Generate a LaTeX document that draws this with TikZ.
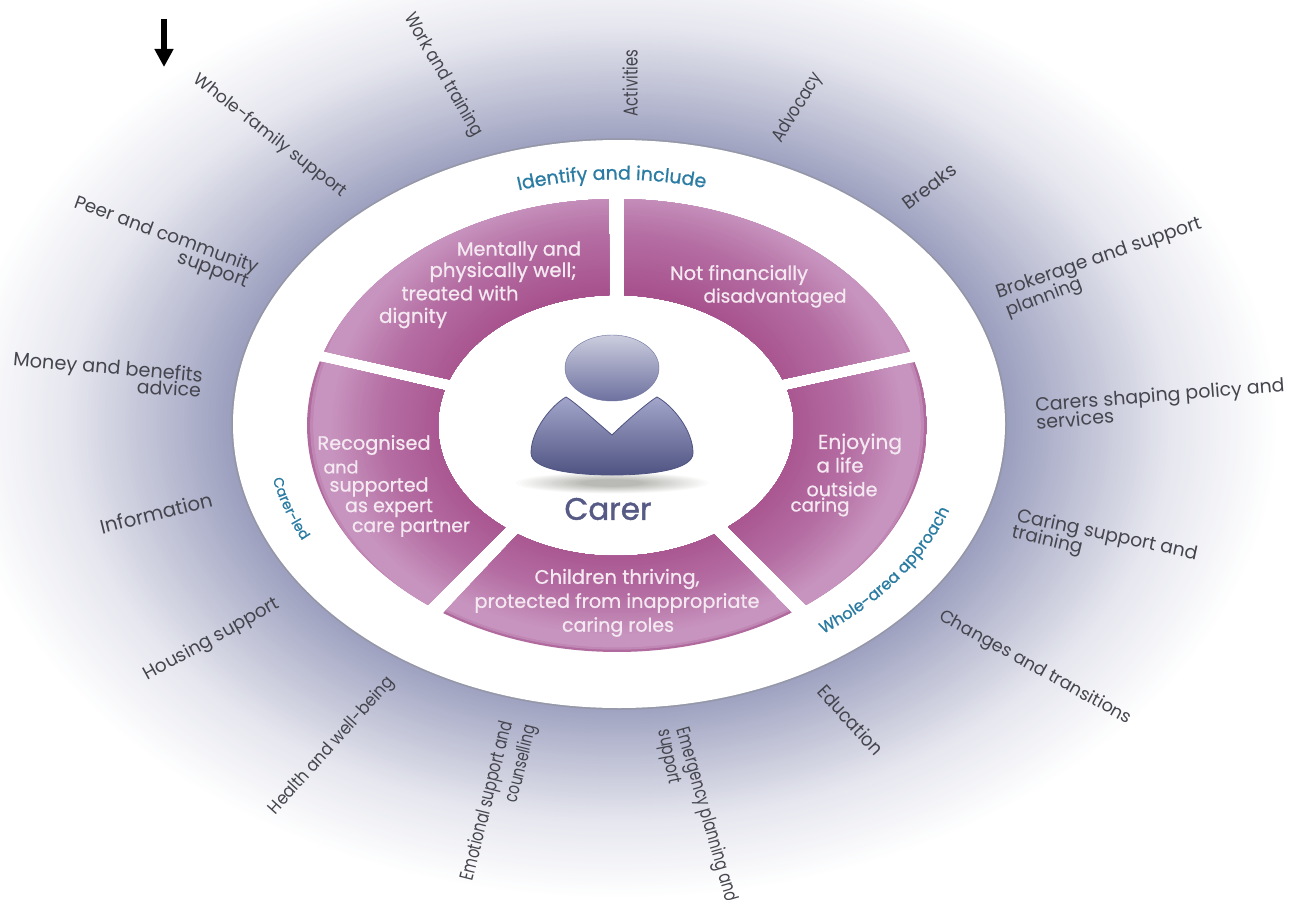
\documentclass[tikz,border=0pt]{standalone}
\usepackage{fontspec}
\usepackage{graphicx}
\setmainfont{Poppins}
\newfontfamily\pinkfont{Poppins}[FakeBold=0.8]
\newfontfamily\carerfont{Poppins}[FakeBold=1.4]
\usetikzlibrary{arrows.meta,decorations.text}
\definecolor{haloA}{HTML}{989CBC}
\definecolor{haloB}{HTML}{BDBFD4}
\definecolor{haloC}{HTML}{E6E7EF}
\definecolor{segA}{HTML}{A6508C}
\definecolor{segB}{HTML}{B56EA3}
\definecolor{segC}{HTML}{C794BF}
\definecolor{segD}{HTML}{B06A9E}
\definecolor{shadowA}{HTML}{B9B9B5}
\definecolor{labelink}{HTML}{45454E}
\definecolor{pinktext}{HTML}{F4E8F1}
\definecolor{bluetext}{HTML}{2B7CA3}
\definecolor{personink}{HTML}{565A85}
\definecolor{bodyA}{HTML}{A3A6CA}
\definecolor{bodyB}{HTML}{4F5381}
\definecolor{headA}{HTML}{CBCDDE}
\definecolor{headB}{HTML}{6E719F}
% r, ra, colour a, rb, colour b: sets gradc when ra<=r<=rb
\newcommand{\mixstop}[5]{%
 \pgfmathtruncatemacro\inpiece{(#1>=#2 && #1<=#4) ? 1 : 0}%
 \ifnum\inpiece=1
  \pgfmathtruncatemacro\pct{100*(#1-#2)/(#4-#2)}%
  \colorlet{gradc}{#5!\pct!#3}%
 \fi}
\newcommand{\segpath}[4]{plot[domain=#1:#2,samples=50]({617+310*cos(\x)},{425.5-226.5*sin(\x)}) -- plot[domain=#3:#4,samples=50]({616+178*cos(\x)},{425.5-130.5*sin(\x)}) -- cycle}
% outer from, outer to, inner from, inner to, vertical stretch of the gradient
\newcommand{\segment}[5]{\begin{scope}\clip \segpath{#1}{#2}{#3}{#4};
 \foreach \i in {0,...,48}{
  \pgfmathsetmacro\rr{1-0.48*\i/48}
  \colorlet{gradc}{segA}
  \mixstop{\rr}{0.52}{segA}{0.76}{segB}
  \mixstop{\rr}{0.76}{segB}{0.93}{segC}
  \mixstop{\rr}{0.93}{segC}{0.985}{segC}
  \mixstop{\rr}{0.985}{segC}{1.0}{segD}
  \fill[gradc] (617,425.5) ellipse [x radius=\rr*310pt,y radius=\rr*#5*226.5pt];
 }\end{scope}}
% y-stretch (opt), name, x, y, rotation, width, text
\newcommand{\lab}[7][1]{\node[outerlabel,rotate=#5] (#2) at (#3,#4) {\resizebox{#6pt}{!}{\scalebox{1}[#1]{#7}}};}
\newcommand{\pink}[5]{\node[pinklabel] (#1) at (#2,#3) {\resizebox{#4pt}{!}{\pinkfont #5}};}
\tikzset{
 outerlabel/.style={inner sep=0pt,text=labelink},
 pinklabel/.style={inner sep=0pt,text=pinktext}
}
\newcommand{\arcA}{\pinkfont\fontsize{19}{21}\selectfont\color{bluetext}}
\newcommand{\arcB}{\pinkfont\fontsize{16}{18}\selectfont\color{bluetext}}
\newcommand{\arcC}{\pinkfont\fontsize{14}{16}\selectfont\color{bluetext}}
\begin{document}
\begin{tikzpicture}[x=1pt,y=-1pt]
\useasboundingbox (0,0) rectangle (1289,899);
\fill[white] (0,0) rectangle (1289,899);
\begin{scope}
\clip (0,0) rectangle (1289,899);
\foreach \i in {0,...,80}{
 \pgfmathsetmacro\rr{1-0.42*\i/80}
 \colorlet{gradc}{haloA}
 \mixstop{\rr}{0.58}{haloA}{0.70}{haloB}
 \mixstop{\rr}{0.70}{haloB}{0.84}{haloC}
 \mixstop{\rr}{0.84}{haloC}{1.0}{white}
 \fill[gradc] (619,424) ellipse [x radius=\rr*660pt,y radius=\rr*475pt];
}
\end{scope}
% white ring
\draw[draw=black!45,line width=2.5pt,opacity=.45] (619,424) ellipse [x radius=386.5pt,y radius=284.5pt];
\fill[white] (619,424) ellipse [x radius=386pt,y radius=284pt];
% segments
\segment{91.5}{160.9}{159.3}{92.2}{1.12}
\segment{163.55}{232.4}{231.5}{164.4}{1.04}
\segment{235.9}{304.3}{303.5}{236.5}{1.0}
\segment{307.6}{376.25}{375.7}{309}{1.04}
\segment{19.07}{88.7}{87.4}{20.8}{1.12}
% person
\foreach \i in {0,...,24}{
 \pgfmathsetmacro\rr{1-\i/25}
 \colorlet{gradc}{shadowA}
 \mixstop{\rr}{0.3}{shadowA}{1.0}{white}
 \fill[gradc] (612,483) ellipse [x radius=\rr*100pt,y radius=\rr*11pt];
}
\shade[top color=headA,bottom color=headB,draw=headB,line width=.4pt] (612,368) ellipse [x radius=47pt,y radius=33pt];
\shade[top color=bodyA,bottom color=bodyB,draw=bodyB,line width=.8pt]
 (566,397) .. controls (575,402) and (600,425) .. (612,435)
 .. controls (622,425) and (648,402) .. (657,397)
 .. controls (672,405) and (693,430) .. (693,453)
 .. controls (693,470) and (650,475) .. (612,475)
 .. controls (575,475) and (531,470) .. (531,453)
 .. controls (531,430) and (552,405) .. (566,397) -- cycle;
\node[inner sep=0pt,text=personink] (carer) at (608,509) {\resizebox{87pt}{!}{\carerfont Carer}};
% segment texts
\pink{t1}{519}{251}{124}{Mentally and}
\pink{t2}{503}{272}{147}{physically well;}
\pink{t3}{460}{293}{117}{treated with}
\pink{t4}{413}{318}{68}{dignity}
\pink{t5}{739}{275}{138}{Not financially}
\pink{t6}{775}{298}{143}{disadvantaged}
\pink{t7}{860}{444}{84}{Enjoying}
\pink{t8}{840}{465}{47}{a life}
\pink{t9}{842}{489}{71}{outside}
\pink{t10}{820}{507}{59}{caring}
\pink{t11}{374}{445}{113}{Recognised}
\pink{t12}{341}{467}{35}{and}
\pink{t13}{379}{487}{99}{supported}
\pink{t14}{389}{508}{88}{as expert}
\pink{t15}{411}{528}{118}{care partner}
\pink{t16}{617}{579}{165}{Children thriving,}
\pink{t17}{617}{603}{285}{protected from inappropriate}
\pink{t18}{618}{627}{112}{caring roles}
% arc texts
\path[decorate,decoration={text along path,text align=center,text={|\arcA|Identify and include}}]
 plot[domain=130:52,samples=60]({617+335*cos(\x)},{425.5-246*sin(\x)});
\path[decorate,decoration={text along path,text align=center,text={|\arcB|Whole-area approach}}]
 plot[domain=-60:-12,samples=60]({617+352*cos(\x)},{425.5-257*sin(\x)});
\path[decorate,decoration={text along path,text align=center,text={|\arcC|Carer-led}}]
 plot[domain=170:226,samples=60]({617+352*cos(\x)},{425.5-257*sin(\x)});
% outer labels
\lab[1.2]{l1}{443}{75}{-60}{139}{Work and training}
\lab[1.35]{l2}{630}{83}{90}{66}{Activities}
\lab[1.2]{l3}{798}{108}{58}{78}{Advocacy}
\lab{l4}{929}{186}{37}{62}{Breaks}
\lab{l5}{1099}{259}{19}{216}{Brokerage and support}
\lab{l6}{1044}{298}{21}{80}{planning}
\lab{l7}{1160}{397}{4.5}{250}{Carers shaping policy and}
\lab{l8}{1075}{419}{5.5}{78}{services}
\lab{l9}{1107}{536}{-12}{184}{Caring support and}
\lab{l10}{1047}{541}{-13}{72}{training}
\lab{l11}{1035}{668}{-29}{217}{Changes and transitions}
\lab[1.1]{l12}{851}{720}{-48}{87}{Education}
\lab[1.35]{l13}{706}{815}{-74}{180}{Emergency planning and}
\lab[1.35]{l14}{668}{757}{-79}{55}{support}
\lab[1.35]{l15}{488}{801}{76}{163}{Emotional support and}
\lab[1.35]{l16}{522}{764}{76}{79}{counselling}
\lab[1.1]{l17}{332}{746}{48}{178}{Health and well-being}
\lab{l18}{212}{640}{29}{152}{Housing support}
\lab{l19}{156}{513}{14}{115}{Information}
\lab{l20}{108}{369}{-5}{190}{Money and benefits}
\lab{l21}{169}{388}{-3}{64}{advice}
\lab{l22}{166}{236}{-20}{194}{Peer and community}
\lab{l23}{213}{271}{-20}{74}{support}
\lab{l24}{270}{136}{-38}{189}{Whole-family support}
% arrow
\coordinate (arrowstart) at (164,19);
\coordinate (arrowend) at (164,67);
\draw[line width=6pt,-{Triangle[width=18pt,length=18pt]},black] (arrowstart) -- (arrowend);
\end{tikzpicture}
\end{document}
